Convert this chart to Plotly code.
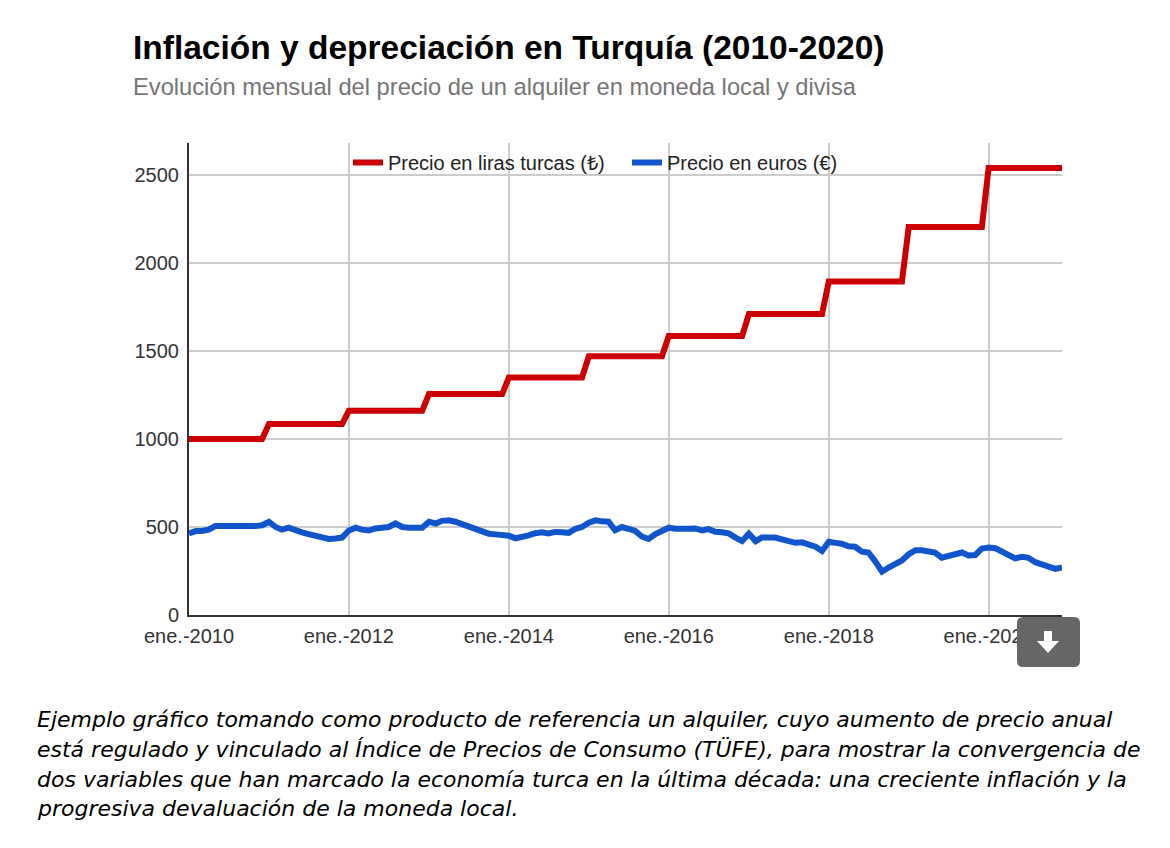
import plotly.graph_objects as go
import pandas as pd

# ---------------- data ----------------
months = pd.date_range("2010-01-01", "2020-12-01", freq="MS")
years = list(range(2010, 2021))

# annual regulated rent (TRY), applied every January
rent_try_annual = [1000, 1085, 1160, 1255, 1350, 1470, 1585, 1710, 1895, 2205, 2540]
rent_try = [v for v in rent_try_annual for _ in range(12)]

# monthly rent converted to EUR
rent_eur_2010 = [464, 477, 477, 485, 505, 505, 500, 505, 505, 500, 505, 510]
rent_eur_2011 = [530, 500, 485, 496, 480, 470, 460, 450, 440, 432, 435, 440]
rent_eur_2012 = [480, 496, 485, 480, 492, 496, 500, 520, 500, 496, 496, 496]
rent_eur_2013 = [530, 520, 535, 538, 530, 515, 500, 488, 470, 462, 458, 455]
rent_eur_2014 = [450, 436, 440, 452, 465, 470, 463, 472, 470, 467, 490, 500]
rent_eur_2015 = [525, 538, 532, 530, 482, 500, 490, 478, 445, 432, 460, 480]
rent_eur_2016 = [496, 490, 494, 490, 492, 480, 488, 473, 470, 464, 440, 420]
rent_eur_2017 = [462, 420, 440, 440, 440, 430, 420, 410, 413, 400, 388, 364]
rent_eur_2018 = [416, 410, 405, 390, 388, 360, 355, 305, 246, 270, 290, 310]
rent_eur_2019 = [345, 368, 368, 362, 355, 326, 337, 342, 355, 338, 341, 378]
rent_eur_2020 = [383, 379, 360, 340, 322, 331, 325, 300, 284, 275, 262, 270]
rent_eur = (rent_eur_2010 + rent_eur_2011 + rent_eur_2012 + rent_eur_2013 +
            rent_eur_2014 + rent_eur_2015 + rent_eur_2016 + rent_eur_2017 +
            rent_eur_2018 + rent_eur_2019 + rent_eur_2020)

x_tick_dates = ["2010-01-01", "2012-01-01", "2014-01-01", "2016-01-01", "2018-01-01", "2020-01-01"]
x_tick_labels = ["ene.-2010", "ene.-2012", "ene.-2014", "ene.-2016", "ene.-2018", "ene.-2020"]
y_tick_vals = [0, 500, 1000, 1500, 2000, 2500]

series_names = ["Precio en liras turcas (₺)", "Precio en euros (€)"]

title_text = "Inflación y depreciación en Turquía (2010-2020)"
subtitle_text = "Evolución mensual del precio de un alquiler en moneda local y divisa"
caption_lines = [
    "Ejemplo gráfico tomando como producto de referencia un alquiler, cuyo aumento de precio anual",
    "está regulado y vinculado al Índice de Precios de Consumo (TÜFE), para mostrar la convergencia de",
    "dos variables que han marcado la economía turca en la última década: una creciente inflación y la",
    "progresiva devaluación de la moneda local.",
]

# ---------------- layout geometry (screen pixels) ----------------
PAGE_OFF = 8                      # default body margin of the html page
W, H = 1170 - PAGE_OFF, 848 - PAGE_OFF
L, R, T, B = 189, 1062, 143, 615  # plot area in screen pixels
FONT = "Liberation Sans, Arial, sans-serif"


def px2x(px):
    return (px - L) / (R - L)


def py2y(py):
    return (B - py) / (B - T)


fig = go.Figure()
fig.add_trace(go.Scatter(x=months, y=rent_try, mode="lines", name=series_names[0],
                         line=dict(color="#cc0000", width=6)))
fig.add_trace(go.Scatter(x=months, y=rent_eur, mode="lines", name=series_names[1],
                         line=dict(color="#1155cc", width=6)))

annotations = [
    dict(text=f"<b>{title_text}</b>", x=px2x(131), y=py2y(47), xref="paper", yref="paper",
         xanchor="left", yanchor="middle", showarrow=False,
         font=dict(family=FONT, size=33.5, color="#000000")),
    dict(text=subtitle_text, x=px2x(131), y=py2y(87), xref="paper", yref="paper",
         xanchor="left", yanchor="middle", showarrow=False,
         font=dict(family=FONT, size=23.7, color="#757575")),
]
cap_centers = [719, 749.5, 779.5, 808.5]
for line, cy in zip(caption_lines, cap_centers):
    annotations.append(dict(text=line, x=px2x(35), y=py2y(cy), xref="paper", yref="paper",
                            xanchor="left", yanchor="middle", showarrow=False,
                            font=dict(family="DejaVu Sans, Verdana, sans-serif", size=22,
                                      color="#000000", style="italic")))


# download-button decoration (rounded square with white arrow)
def rounded_rect_path(x0, y0, x1, y1, r):
    return (f"M {px2x(x0 + r)},{py2y(y0)} L {px2x(x1 - r)},{py2y(y0)} "
            f"Q {px2x(x1)},{py2y(y0)} {px2x(x1)},{py2y(y0 + r)} "
            f"L {px2x(x1)},{py2y(y1 - r)} Q {px2x(x1)},{py2y(y1)} {px2x(x1 - r)},{py2y(y1)} "
            f"L {px2x(x0 + r)},{py2y(y1)} Q {px2x(x0)},{py2y(y1)} {px2x(x0)},{py2y(y1 - r)} "
            f"L {px2x(x0)},{py2y(y0 + r)} Q {px2x(x0)},{py2y(y0)} {px2x(x0 + r)},{py2y(y0)} Z")


arrow_path = (f"M {px2x(1044)},{py2y(631)} L {px2x(1052)},{py2y(631)} L {px2x(1052)},{py2y(641)} "
              f"L {px2x(1059)},{py2y(641)} L {px2x(1048)},{py2y(653)} L {px2x(1037)},{py2y(641)} "
              f"L {px2x(1044)},{py2y(641)} Z")

shapes = [
    dict(type="path", path=rounded_rect_path(1017, 617, 1080, 667, 6), xref="paper", yref="paper",
         fillcolor="#666666", line=dict(width=0), layer="above"),
    dict(type="path", path=arrow_path, xref="paper", yref="paper",
         fillcolor="#ffffff", line=dict(width=0), layer="above"),
]

fig.update_layout(
    width=W, height=H,
    margin=dict(l=L - PAGE_OFF, r=W - (R - PAGE_OFF), t=T - PAGE_OFF, b=H - (B - PAGE_OFF), pad=0),
    paper_bgcolor="#ffffff", plot_bgcolor="#ffffff",
    font=dict(family=FONT, size=20, color="#333333"),
    showlegend=True,
    legend=dict(orientation="h", x=px2x(348), xanchor="left", y=py2y(143), yanchor="top",
                font=dict(family=FONT, size=20, color="#222222"), bgcolor="rgba(0,0,0,0)",
                itemwidth=30, entrywidth=234, entrywidthmode="pixels"),
    annotations=annotations,
    shapes=shapes,
    hovermode=False,
)
fig.update_xaxes(range=["2010-01-01", "2020-12-01"], tickmode="array", tickvals=x_tick_dates,
                 ticktext=x_tick_labels, showgrid=True, gridcolor="#cccccc", gridwidth=1.5,
                 showline=True, linecolor="#333333", linewidth=2, ticks="", zeroline=False,
                 ticklabelstandoff=2, tickfont=dict(size=20, color="#333333"))
fig.update_yaxes(range=[0, (B - T) * 2500 / (B - 175)], tickmode="array", tickvals=y_tick_vals,
                 showgrid=True, gridcolor="#cccccc", gridwidth=1.5, showline=True,
                 linecolor="#333333", linewidth=2, ticks="", zeroline=False,
                 ticklabelstandoff=4, tickfont=dict(size=20, color="#333333"))

fig.write_html("out.html", config={"displayModeBar": False})
